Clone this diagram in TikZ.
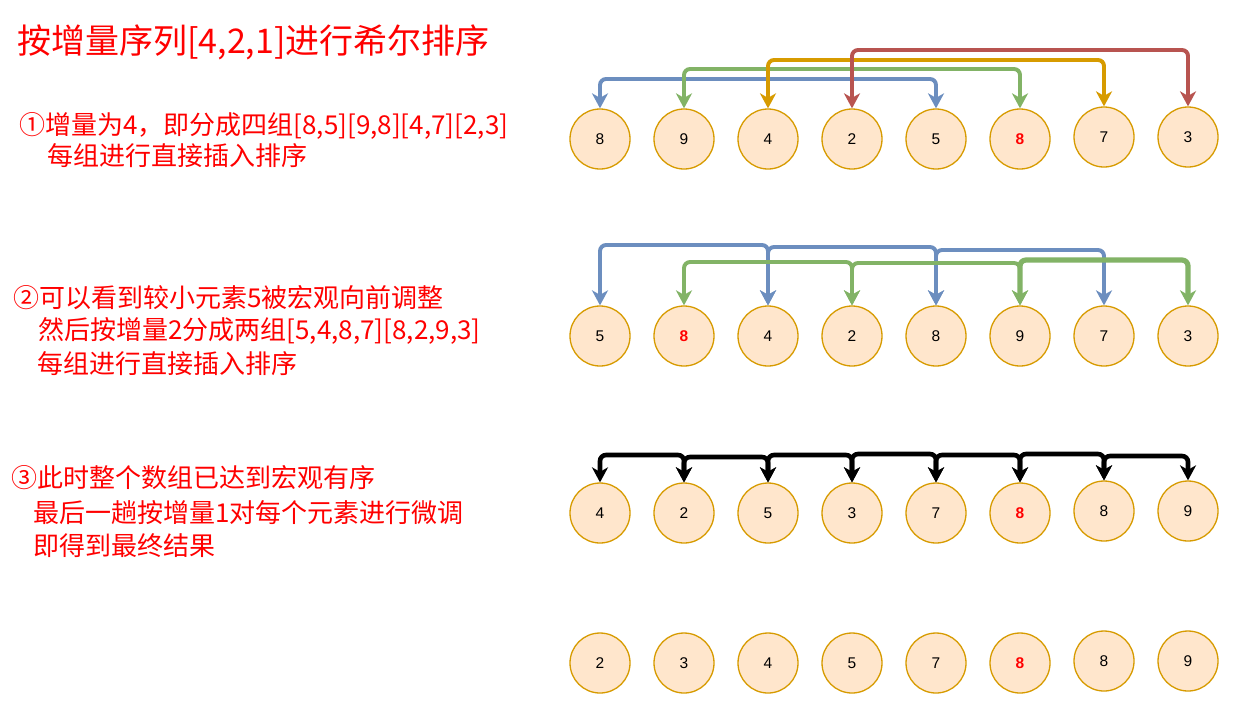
\documentclass[tikz,border=0pt]{standalone}
\usepackage{fontspec}
\setmainfont{Liberation Sans}
\newfontfamily\cjkfont{Noto Sans CJK SC}
\usetikzlibrary{arrows.meta}

\definecolor{cellfill}{HTML}{FFE6CC}
\definecolor{celldraw}{HTML}{D79B00}
\definecolor{gblue}{HTML}{6C8EBF}
\definecolor{ggreen}{HTML}{82B366}
\definecolor{gyellow}{HTML}{D79B00}
\definecolor{gred}{HTML}{B85450}
\definecolor{notered}{HTML}{FF0000}

\tikzset{
  cell/.style={circle, draw=celldraw, fill=cellfill, line width=1.3pt,
    minimum size=60pt, inner sep=0pt, font=\fontsize{15.5}{15.5}\selectfont},
  hot/.style={text=notered, font=\fontsize{15.5}{15.5}\selectfont\bfseries},
  link/.style={line width=3.9pt, rounded corners=6pt,
    arrows={Stealth[length=15pt,width=16pt,inset=4.5pt]-Stealth[length=15pt,width=16pt,inset=4.5pt]}},
  boldlink/.style={link, black, line width=4.6pt},
  note/.style={anchor=west, text=notered, inner sep=0pt,
    font=\cjkfont\fontsize{26}{26}\selectfont},
  heading/.style={anchor=west, text=notered, inner sep=0pt,
    font=\cjkfont\fontsize{34}{34}\selectfont},
}

\begin{document}
\begin{tikzpicture}[x=1pt, y=-1pt]
\useasboundingbox (0,0) rectangle (1244,724);
\fill[white] (0,0) rectangle (1244,724);

% headline and step descriptions
\node[heading] (title) at (17,42) {按增量序列[4,2,1]进行希尔排序};

\node[note] (s1a) at (19,126) {①增量为4，即分成四组[8,5][9,8][4,7][2,3]};
\node[note] (s1b) at (47,156) {每组进行直接插入排序};

\node[note] (s2a) at (13,298) {②可以看到较小元素5被宏观向前调整};
\node[note] (s2b) at (38,331) {然后按增量2分成两组[5,4,8,7][8,2,9,3]};
\node[note] (s2c) at (37,364) {每组进行直接插入排序};

\node[note] (s3a) at (11,478) {③此时整个数组已达到宏观有序};
\node[note] (s3b) at (33,513) {最后一趟按增量1对每个元素进行微调};
\node[note] (s3c) at (33,546) {即得到最终结果};

% row 1: gap 4
\node[cell] (a1) at (600,139) {8};
\node[cell] (a2) at (684,139) {9};
\node[cell] (a3) at (768,139) {4};
\node[cell] (a4) at (852,139) {2};
\node[cell] (a5) at (936,139) {5};
\node[cell,hot] (a6) at (1020,139) {8};
\node[cell] (a7) at (1104,137) {7};
\node[cell] (a8) at (1188,137) {3};

\draw[link, gblue]   (a1.north) -- (a1.north |- 0,79) -- (a5.north |- 0,79) -- (a5.north);
\draw[link, ggreen]  (a2.north) -- (a2.north |- 0,69) -- (a6.north |- 0,69) -- (a6.north);
\draw[link, gyellow] (a3.north) -- (a3.north |- 0,60) -- (a7.north |- 0,60) -- (a7.north);
\draw[link, gred]    (a4.north) -- (a4.north |- 0,50) -- (a8.north |- 0,50) -- (a8.north);

% row 2: gap 2
\node[cell] (b1) at (600,336) {5};
\node[cell,hot] (b2) at (684,336) {8};
\node[cell] (b3) at (768,336) {4};
\node[cell] (b4) at (852,336) {2};
\node[cell] (b5) at (936,336) {8};
\node[cell] (b6) at (1020,336) {9};
\node[cell] (b7) at (1104,336) {7};
\node[cell] (b8) at (1188,336) {3};

\draw[link, gblue]  (b1.north) -- (b1.north |- 0,245) -- (b3.north |- 0,245) -- (b3.north);
\draw[link, gblue]  (b3.north) -- (b3.north |- 0,247) -- (b5.north |- 0,247) -- (b5.north);
\draw[link, gblue]  (b5.north) -- (b5.north |- 0,250) -- (b7.north |- 0,250) -- (b7.north);
\draw[link, ggreen] (b2.north) -- (b2.north |- 0,262) -- (b4.north |- 0,262) -- (b4.north);
\draw[link, ggreen] (b4.north) -- (b4.north |- 0,263) -- (b6.north |- 0,263) -- (b6.north);
\draw[link, ggreen, line width=5.2pt] (b6.north) -- (b6.north |- 0,260) -- (b8.north |- 0,260) -- (b8.north);

% row 3: gap 1
\node[cell] (c1) at (600,513) {4};
\node[cell] (c2) at (684,513) {2};
\node[cell] (c3) at (768,513) {5};
\node[cell] (c4) at (852,513) {3};
\node[cell] (c5) at (936,513) {7};
\node[cell,hot] (c6) at (1020,513) {8};
\node[cell] (c7) at (1104,511) {8};
\node[cell] (c8) at (1188,511) {9};

\draw[boldlink] (c1.north) -- (c1.north |- 0,455) -- (c2.north |- 0,455) -- (c2.north);
\draw[boldlink] (c2.north) -- (c2.north |- 0,457) -- (c3.north |- 0,457) -- (c3.north);
\draw[boldlink] (c3.north) -- (c3.north |- 0,455) -- (c4.north |- 0,455) -- (c4.north);
\draw[boldlink] (c4.north) -- (c4.north |- 0,454) -- (c5.north |- 0,454) -- (c5.north);
\draw[boldlink] (c5.north) -- (c5.north |- 0,455) -- (c6.north |- 0,455) -- (c6.north);
\draw[boldlink] (c6.north) -- (c6.north |- 0,454) -- (c7.north |- 0,454) -- (c7.north);
\draw[boldlink] (c7.north) -- (c7.north |- 0,456) -- (c8.north |- 0,456) -- (c8.north);

% row 4: sorted result
\node[cell] (d1) at (600,663) {2};
\node[cell] (d2) at (684,663) {3};
\node[cell] (d3) at (768,663) {4};
\node[cell] (d4) at (852,663) {5};
\node[cell] (d5) at (936,663) {7};
\node[cell,hot] (d6) at (1020,663) {8};
\node[cell] (d7) at (1104,661) {8};
\node[cell] (d8) at (1188,661) {9};
\end{tikzpicture}
\end{document}
